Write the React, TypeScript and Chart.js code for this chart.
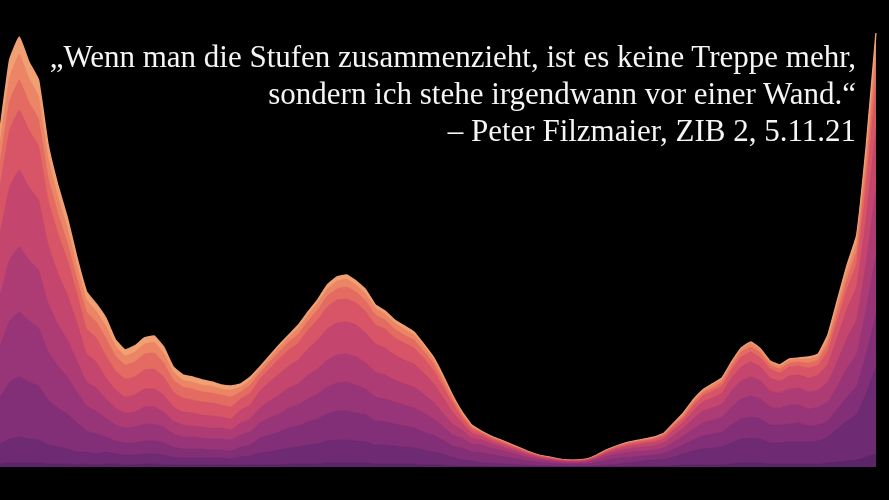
import React, { useEffect, useRef } from "react";
import { Chart, registerables } from "chart.js";

Chart.register(...registerables);

// Neuinfektionen nach Altersgruppe (gestapelt, relative Einheiten), 4-Tages-Schritte ab 6.11.2020
const AGE_GROUPS = ["<5", "5–14", "15–24", "25–34", "35–44", "45–54", "55–64", "65–74", "75–84", ">84"];

const age0 = [3,4,4,4,4,3,3,3,2,3,2,3,3,2,2,3,3,2,2,2,2,2,2,2,2,2,2,2,2,2,3,3,3,3,4,4,4,4,4,3,3,3,3,3,2,2,2,1,1,1,0.7,0.6,0.5,0.5,0.4,0.3,0.2,0.2,0.2,0.1,0.1,0.2,0.2,0.3,0.4,0.6,0.7,0.8,0.9,1.0,1.3,2,2,2,2,2,3,4,4,4,3,3,3,3,3,3,4,5,6,7,10,13];
const age5 = [20,24,26,24,23,19,17,15,13,12,11,12,10,10,10,10,10,10,8,7,7,7,7,7,6,8,9,12,13,15,16,17,19,20,22,23,23,22,21,19,19,18,17,16,15,13,11,9,6,5,3.6,3.1,2.7,2.3,1.9,1.5,1.2,1.0,0.8,0.7,0.7,0.8,1.2,1.7,2.1,3.6,3.9,5.6,6.0,6.8,8.8,11,14,16,17,18,21,24,25,24,21,21,22,22,22,23,26,33,40,46,64,87];
const age15 = [47,57,60,57,54,45,39,35,29,21,20,15,13,12,12,13,13,12,10,9,9,9,8,8,8,10,11,15,17,18,20,21,23,25,27,29,29,28,27,24,23,22,21,20,18,17,14,11,12,9,10.1,8.7,7.6,6.4,5.3,4.2,3.4,2.8,2.2,2.0,2.0,2.2,3.4,4.8,5.9,5.3,5.7,4.8,5.1,5.8,7.5,9,11,13,14,15,18,20,21,20,18,18,18,19,16,16,16,20,24,28,39,52];
const age25 = [51,61,65,61,58,48,42,37,31,25,23,19,16,15,16,17,17,16,13,12,12,11,11,11,11,12,13,15,17,18,20,21,23,25,27,28,29,28,26,24,23,22,21,20,19,16,14,11,10,8,7.9,6.8,5.9,5.1,4.2,3.3,2.6,2.2,1.8,1.5,1.5,1.8,2.6,3.7,4.6,4.8,5.2,4.8,5.1,5.8,7.5,9,11,13,14,15,18,20,21,20,18,17,19,18,17,18,19,23,29,32,45,61];
const age35 = [51,61,65,61,58,49,42,37,31,24,23,19,17,15,15,17,17,15,13,12,11,11,11,11,10,12,13,15,17,19,20,21,24,25,27,28,28,28,26,25,24,22,21,21,19,17,13,11,8,6,5.0,4.3,3.8,3.2,2.7,2.1,1.7,1.4,1.1,1.0,1.0,1.1,1.7,2.4,2.9,3.5,3.8,4.2,4.5,5.1,6.6,8,10,12,12,13,16,18,19,18,16,15,16,17,17,17,20,25,30,35,48,65];
const age45 = [61,73,77,73,70,58,51,45,38,28,26,21,18,16,17,18,18,17,14,13,13,12,12,11,11,13,14,17,19,21,22,24,26,29,31,32,32,32,30,28,27,25,24,23,21,19,16,12,7,5,3.6,3.1,2.7,2.3,1.9,1.5,1.2,1.0,0.8,0.7,0.7,0.8,1.2,1.7,2.1,2.6,2.9,3.4,3.6,4.1,5.3,6,8,9,10,11,13,14,15,14,13,12,13,13,14,15,18,24,29,33,45,61];
const age55 = [47,57,60,57,54,45,40,35,29,25,24,22,19,18,18,19,20,18,15,14,13,13,13,12,12,11,12,12,13,15,16,17,19,20,22,23,23,22,21,19,19,17,17,16,15,13,11,9,5,4,2.5,2.2,1.9,1.6,1.3,1.1,0.8,0.7,0.6,0.5,0.5,0.6,0.8,1.2,1.5,1.8,2.0,2.2,2.4,2.7,3.5,4,5,6,7,7,8,10,10,9,9,8,9,9,10,10,13,17,20,23,32,43];
const age65 = [24,29,30,28,27,23,20,17,15,17,16,18,15,14,15,16,16,14,12,11,11,10,10,10,10,7,8,6,7,7,8,9,9,10,11,11,12,11,11,10,9,9,8,8,7,7,5,4,3,2,1.4,1.2,1.1,0.9,0.8,0.6,0.5,0.4,0.3,0.3,0.3,0.3,0.5,0.7,0.8,1.0,1.0,1.1,1.2,1.4,1.8,2,3,3,3,4,4,5,5,5,4,4,4,4,5,5,7,8,10,12,16,22];
const age75 = [20,24,26,24,23,19,17,15,13,12,11,12,10,9,10,10,11,10,8,7,7,7,7,6,7,5,5,4,4,5,5,6,6,7,7,8,8,7,7,7,6,6,6,5,5,4,4,3,2,1,0.7,0.6,0.5,0.5,0.4,0.3,0.2,0.2,0.2,0.1,0.1,0.2,0.2,0.3,0.4,0.6,0.7,0.8,0.9,1.0,1.3,2,2,2,3,3,3,3,4,3,3,3,3,3,4,4,5,7,8,9,13,17];
const age85 = [13,17,17,16,16,13,11,10,8,8,7,8,6,6,6,6,6,6,5,5,5,5,4,4,4,3,3,2,2,2,2,3,3,3,4,4,4,4,4,3,3,3,3,3,2,2,2,1,1,1,0.4,0.3,0.3,0.2,0.2,0.2,0.1,0.1,0.1,0.1,0.1,0.1,0.1,0.2,0.2,0.2,0.3,0.3,0.3,0.3,0.4,1,1,1,1,1,1,1,1,1,1,1,1,1,2,2,4,5,6,7,10,13];

const SERIES = [age0, age5, age15, age25, age35, age45, age55, age65, age75, age85];
const COLORS = ["#5c2568", "#6e2a72", "#832f77", "#983578", "#ae3c74", "#c4456d", "#d75566", "#e36b61", "#eb8566", "#f0a072"];

const START = new Date(2020, 10, 6);
const STEP_DAYS = 4;
const LABELS = age0.map((_, i) => {
  const d = new Date(START.getFullYear(), START.getMonth(), START.getDate() + i * STEP_DAYS);
  return `${d.getDate()}.${d.getMonth() + 1}.${String(d.getFullYear()).slice(2)}`;
});

const QUOTE = [
  "„Wenn man die Stufen zusammenzieht, ist es keine Treppe mehr,",
  "sondern ich stehe irgendwann vor einer Wand.“",
  "– Peter Filzmaier, ZIB 2, 5.11.21",
];

export default function App() {
  const canvasRef = useRef<HTMLCanvasElement | null>(null);

  useEffect(() => {
    document.body.style.margin = "0";
    document.body.style.background = "#000";
    const canvas = canvasRef.current;
    if (!canvas) return;
    const chart = new Chart(canvas, {
      type: "line",
      data: {
        labels: LABELS,
        datasets: SERIES.map((s, i) => ({
          label: AGE_GROUPS[i],
          data: s,
          backgroundColor: COLORS[i],
          borderColor: COLORS[i],
          borderWidth: i === SERIES.length - 1 ? 1.5 : 0.5,
          fill: "origin",
          pointRadius: 0,
          tension: 0.1,
        })),
      },
      options: {
        animation: false,
        responsive: false,
        devicePixelRatio: 1,
        layout: { padding: { left: 0, right: 13, top: 0, bottom: 33 } },
        plugins: { legend: { display: false }, tooltip: { enabled: false }, title: { display: false } },
        scales: {
          x: { display: false, offset: false },
          y: { display: false, stacked: true, min: 0, max: 467 },
        },
      },
    });
    return () => chart.destroy();
  }, []);

  return (
    <div style={{ position: "relative", width: 889, height: 500, background: "#000", overflow: "hidden" }}>
      <canvas ref={canvasRef} width={889} height={500} style={{ display: "block" }} />
      <div
        style={{
          position: "absolute",
          right: 33,
          top: 38,
          textAlign: "right",
          color: "#f5f5f5",
          fontFamily: '"Liberation Serif", serif',
          fontSize: 31,
          lineHeight: "37px",
          whiteSpace: "nowrap",
        }}
      >
        {QUOTE.map((l, i) => (
          <div key={i}>{l}</div>
        ))}
      </div>
    </div>
  );
}
